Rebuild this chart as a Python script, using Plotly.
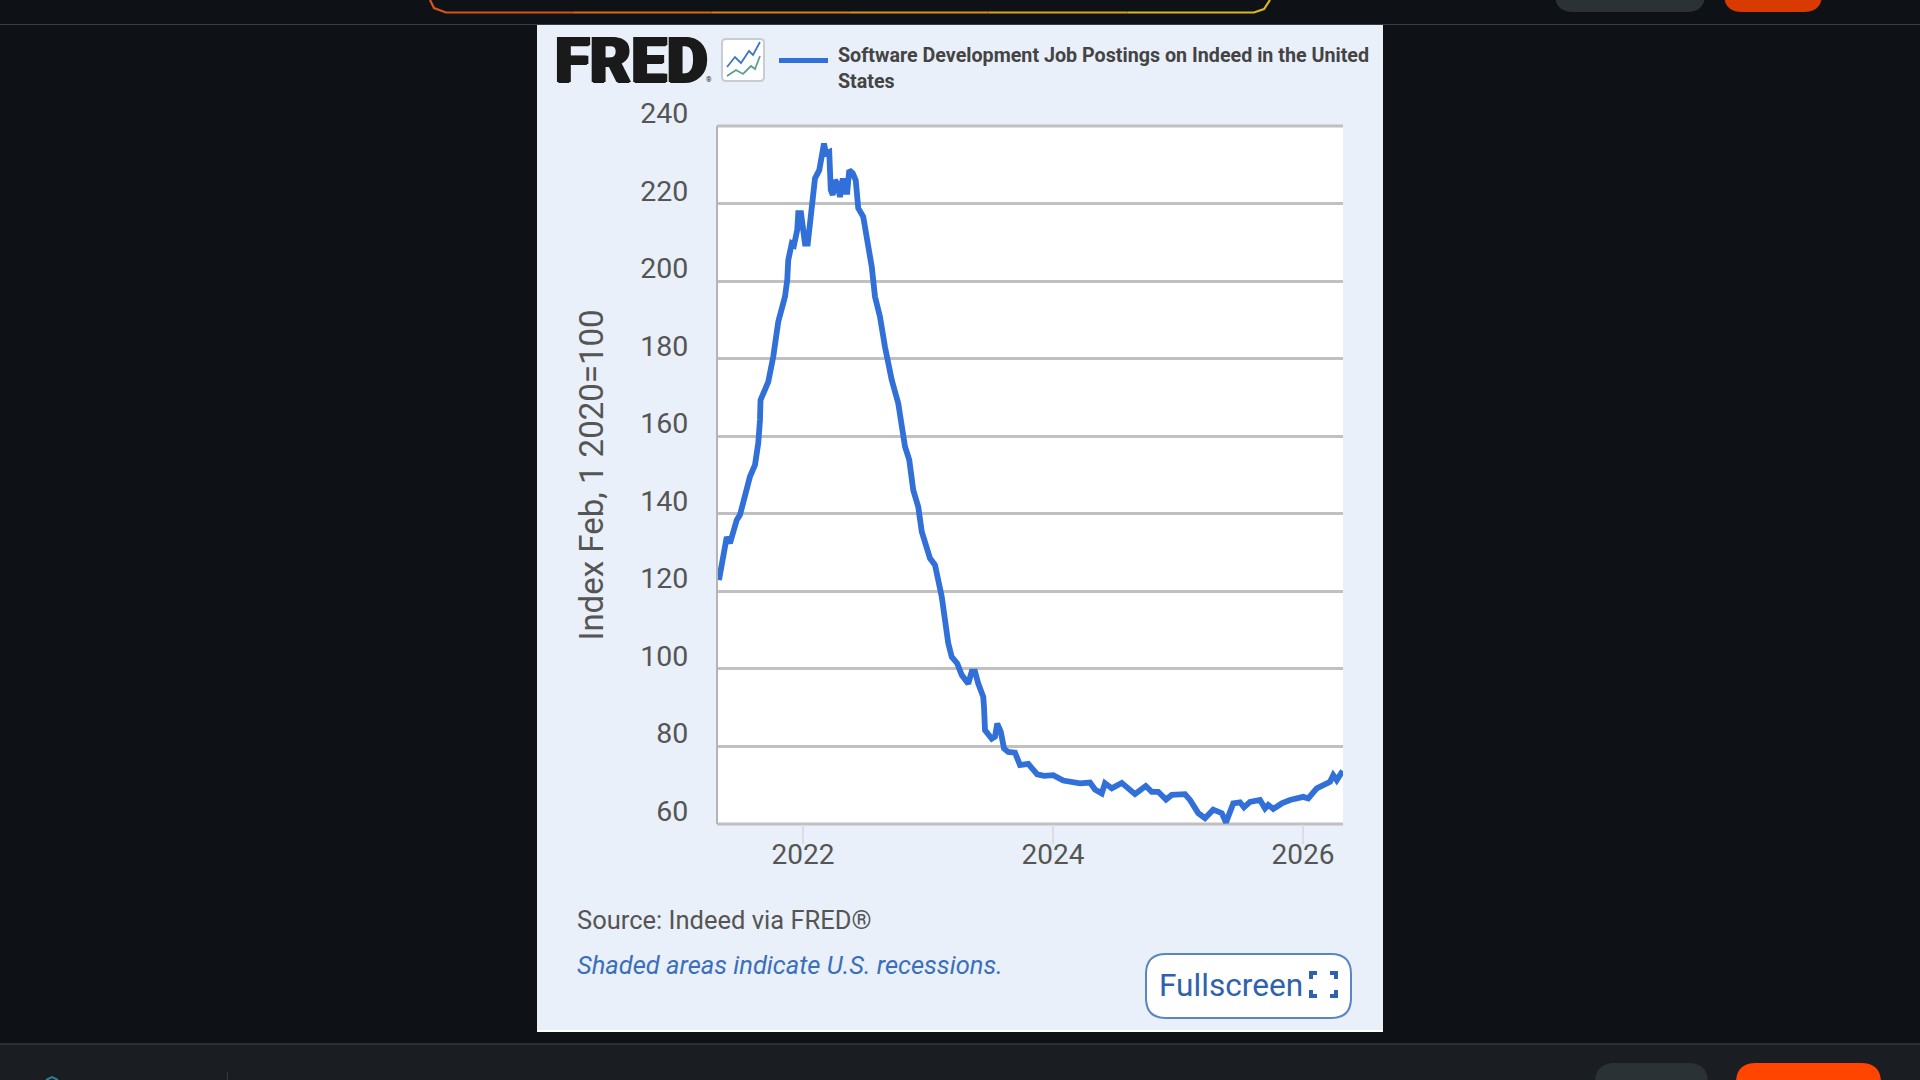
import plotly.graph_objects as go

W = 1920
H = 1080

# year as a decimal fraction
years = [
    2021.328, 2021.362, 2021.390, 2021.416, 2021.470, 2021.496, 2021.536, 2021.576, 2021.616, 2021.642,
    2021.656, 2021.660, 2021.722, 2021.762, 2021.802, 2021.856, 2021.874, 2021.882, 2021.910, 2021.928,
    2021.954, 2021.962, 2021.984, 2022.002, 2022.016, 2022.038, 2022.070, 2022.096, 2022.130, 2022.142,
    2022.168, 2022.184, 2022.210, 2022.222, 2022.238, 2022.256, 2022.274, 2022.296, 2022.318, 2022.336,
    2022.354, 2022.370, 2022.398, 2022.422, 2022.442, 2022.482, 2022.510, 2022.550, 2022.576, 2022.616,
    2022.656, 2022.710, 2022.762, 2022.784, 2022.816, 2022.850, 2022.882, 2022.922, 2022.950, 2023.016,
    2023.056, 2023.110, 2023.162, 2023.190, 2023.234, 2023.270, 2023.322, 2023.350, 2023.376, 2023.402,
    2023.442, 2023.448, 2023.456, 2023.510, 2023.536, 2023.554, 2023.582, 2023.608, 2023.642, 2023.696,
    2023.736, 2023.802, 2023.874, 2023.928, 2024.002, 2024.082, 2024.162, 2024.216, 2024.296, 2024.336,
    2024.390, 2024.416, 2024.470, 2024.550, 2024.656, 2024.742, 2024.790, 2024.842, 2024.904, 2024.950,
    2025.056, 2025.096, 2025.162, 2025.216, 2025.282, 2025.350, 2025.384, 2025.442, 2025.496, 2025.528,
    2025.576, 2025.656, 2025.696, 2025.722, 2025.762, 2025.830, 2025.896, 2026.002, 2026.042, 2026.110,
    2026.216, 2026.242, 2026.270, 2026.290, 2026.318,
]
index_values = [
    122.9, 130.2, 134.0, 132.4, 138.4, 139.7, 144.8, 149.6, 152.6, 158.2,
    164.2, 169.3, 174.0, 180.5, 189.5, 196.0, 200.3, 205.4, 209.7, 209.3,
    213.2, 217.5, 217.5, 212.3, 209.7, 209.7, 219.2, 226.5, 228.6, 230.3,
    235.5, 232.9, 233.3, 223.5, 222.2, 226.0, 225.2, 221.7, 226.5, 223.0,
    223.0, 228.6, 227.8, 226.0, 218.8, 216.6, 211.4, 203.7, 196.0, 190.8,
    183.0, 174.5, 168.5, 164.2, 157.3, 153.9, 146.1, 141.8, 135.4, 128.5,
    126.8, 118.6, 106.6, 103.1, 101.4, 98.4, 96.2, 99.3, 99.3, 96.2,
    92.8, 90.2, 84.2, 82.0, 82.5, 85.9, 83.8, 79.5, 78.6, 78.4,
    75.2, 75.5, 72.8, 72.4, 72.6, 71.2, 70.9, 70.5, 70.7, 68.9,
    67.9, 70.5, 69.2, 70.6, 67.7, 69.8, 68.3, 68.3, 66.3, 67.5,
    67.7, 66.2, 62.8, 61.5, 63.7, 62.8, 60.4, 65.3, 65.6, 64.3,
    65.7, 66.2, 64.0, 64.9, 63.9, 65.3, 66.2, 67.0, 66.6, 69.2,
    70.9, 72.6, 71.3, 72.4, 73.7,
]

y_ticks = [60, 80, 100, 120, 140, 160, 180, 200, 220, 240]
x_ticks = [2022, 2024, 2026]
x_labels = ["2022", "2024", "2026"]

series_name = "Software Development Job Postings on Indeed in the United<br>States"
y_title = "Index Feb, 1 2020=100"

DARK = "#0e1115"
FOOTER = "#1a1d21"
PANEL = "#e9f0f9"
BLUE = "#3070d8"
GRID = "#c0c0c0"
TEXT = "#555555"
LINK = "#3b6fb9"


# the whole page is laid out in pixels, so paper = page
def px(x):
    return x / W


def py(y):
    return 1 - y / H


def rect(x0, y0, x1, y1, fill, line=None, width=0, layer="below"):
    return dict(
        type="rect", xref="paper", yref="paper", x0=px(x0), x1=px(x1), y0=py(y0), y1=py(y1),
        fillcolor=fill, line=dict(color=line or fill, width=width), layer=layer,
    )


def rounded(x0, y0, x1, y1, r, fill, line=None, width=0, layer="above"):
    path = (
        f"M {px(x0 + r)} {py(y0)} L {px(x1 - r)} {py(y0)} Q {px(x1)} {py(y0)} {px(x1)} {py(y0 + r)} "
        f"L {px(x1)} {py(y1 - r)} Q {px(x1)} {py(y1)} {px(x1 - r)} {py(y1)} "
        f"L {px(x0 + r)} {py(y1)} Q {px(x0)} {py(y1)} {px(x0)} {py(y1 - r)} "
        f"L {px(x0)} {py(y0 + r)} Q {px(x0)} {py(y0)} {px(x0 + r)} {py(y0)} Z"
    )
    return dict(
        type="path", xref="paper", yref="paper", path=path, fillcolor=fill,
        line=dict(color=line or fill, width=width), layer=layer,
    )


def polyline(points, color, width, layer="above"):
    path = "M " + " L ".join(f"{px(x)} {py(y)}" for x, y in points)
    return dict(
        type="path", xref="paper", yref="paper", path=path,
        line=dict(color=color, width=width), layer=layer,
    )


def label(text, x, y, size, color, anchor="left", **font):
    return dict(
        text=text, xref="paper", yref="paper", x=px(x), y=py(y), xanchor=anchor, yanchor="middle",
        align="left", showarrow=False, font=dict(family="Roboto", size=size, color=color, **font),
    )


fig = go.Figure(
    go.Scatter(
        x=years, y=index_values, mode="lines", name=series_name,
        line=dict(color=BLUE, width=5.8), showlegend=False,
    )
)

shapes = [
    # page furniture
    rect(0, 24, W, 25, "#3a3d41"),
    rect(0, 1043, W, H, FOOTER),
    rect(0, 1043, W, 1045, "#2c2f33"),
    rect(227, 1072, 228, H, "#33363a"),
    rounded(1555, -30, 1705, 12, 18, "#2b3236", layer="below"),
    rounded(1724, -30, 1822, 12, 18, "#d93a00", layer="below"),
    rounded(1595, 1063, 1708, 1110, 20, "#2b3236", layer="below"),
    rounded(1736, 1063, 1881, 1110, 20, "#ff4500", layer="below"),
    polyline([(46, 1080), (52, 1077), (58, 1080)], "#2d7f94", 2, layer="below"),
    # panel and plot area
    rect(537, 25, 1383, 1032, PANEL),
    rect(537, 1030, 1383, 1032, "#ffffff"),
    rect(718, 126, 1343, 824, "#ffffff"),
    # top and bottom grid lines, plotly leaves these out at the ends of the range
    rect(717, 124.5, 1343, 127.5, GRID),
    rect(717, 822.5, 1343, 825.5, GRID),
    # chart icon
    rounded(722, 39, 764, 81, 4, "#ffffff", line="#c9ccd0", width=2),
    polyline([(727, 67), (735, 57), (741, 63), (749, 51), (753, 55), (760, 42)], "#3f77c8", 1.8),
    polyline([(727, 76), (736, 70), (743, 74), (751, 66), (755, 69), (760, 56)], "#5aa08e", 1.8),
    # series key next to the logo
    rect(779, 58, 828, 63, BLUE, layer="above"),
    # fullscreen button
    rounded(1146, 954, 1351, 1018, 20, "#ffffff", line="#5a86c6", width=2),
]

# glowing border of the search box, orange on the left to yellow on the right
border_colors = ["#d4551c", "#d6691c", "#d77d1c", "#d8911d", "#d9a51d", "#dab81e"]
border_start = 434
border_end = 1266
step = (border_end - border_start) / len(border_colors)
for i, c in enumerate(border_colors):
    a = border_start + i * step
    b = a + step
    pts = [(a, 12.5), (b, 12.5)]
    if i == 0:
        pts = [(430, 0), (434, 8), (446, 12.5), (b, 12.5)]
    if i == len(border_colors) - 1:
        pts = [(a, 12.5), (1254, 12.5), (1264, 9), (1270, 0)]
    shapes.append(polyline(pts, c, 2.2, layer="below"))

# corners of the fullscreen icon
shapes += [
    polyline([(1311, 979), (1311, 973), (1317, 973)], "#2f62ae", 4),
    polyline([(1330, 973), (1336, 973), (1336, 979)], "#2f62ae", 4),
    polyline([(1311, 990), (1311, 996), (1317, 996)], "#2f62ae", 4),
    polyline([(1330, 996), (1336, 996), (1336, 990)], "#2f62ae", 4),
]

annotations = [
    label("FRED", 553, 60, 63.5, "#1a1a1a", weight=900,
          shadow="1.5px 0 0 #1a1a1a, -1.5px 0 0 #1a1a1a, 0 0.5px 0 #1a1a1a"),
    label("®", 704, 80, 7, "#1a1a1a"),
    label(series_name, 836, 68, 19.7, "#444444", weight=700),
    label("Source: Indeed via FRED®", 575, 920, 25.5, TEXT),
    label("Shaded areas indicate U.S. recessions.", 575, 965, 25.5, LINK, style="italic"),
    label("Fullscreen", 1157, 985, 31.6, "#2f62ae"),
]

fig.update_layout(
    width=W,
    height=H,
    margin=dict(l=0, r=0, t=0, b=0),
    autosize=False,
    paper_bgcolor=DARK,
    plot_bgcolor="rgba(0,0,0,0)",
    shapes=shapes,
    annotations=annotations,
    showlegend=False,
    xaxis=dict(
        domain=[px(718), px(1343)],
        range=[2021.32, 2026.32],
        tickvals=x_ticks,
        ticktext=x_labels,
        ticks="outside",
        ticklen=19,
        tickwidth=1.5,
        tickcolor="#d9dee5",
        ticklabelstandoff=-14,
        showgrid=False,
        zeroline=False,
        showline=False,
        automargin=False,
        tickfont=dict(family="Roboto", size=28, color=TEXT),
    ),
    yaxis=dict(
        domain=[py(824), py(126)],
        range=[60, 240],
        tickvals=y_ticks,
        ticks="",
        ticklabelstandoff=22,
        ticklabelshift=-13,
        showgrid=True,
        gridcolor=GRID,
        gridwidth=3,
        zeroline=False,
        showline=True,
        linecolor="#b5b5b5",
        linewidth=2.2,
        automargin=False,
        tickfont=dict(family="Roboto", size=28.5, color=TEXT),
        title=dict(text=y_title, standoff=27, font=dict(family="Roboto", size=33, color=TEXT)),
    ),
)

fig.write_html(
    "out.html",
    config=dict(displayModeBar=False),
    post_script="document.body.style.margin='0';document.body.style.background='" + DARK + "';",
)
